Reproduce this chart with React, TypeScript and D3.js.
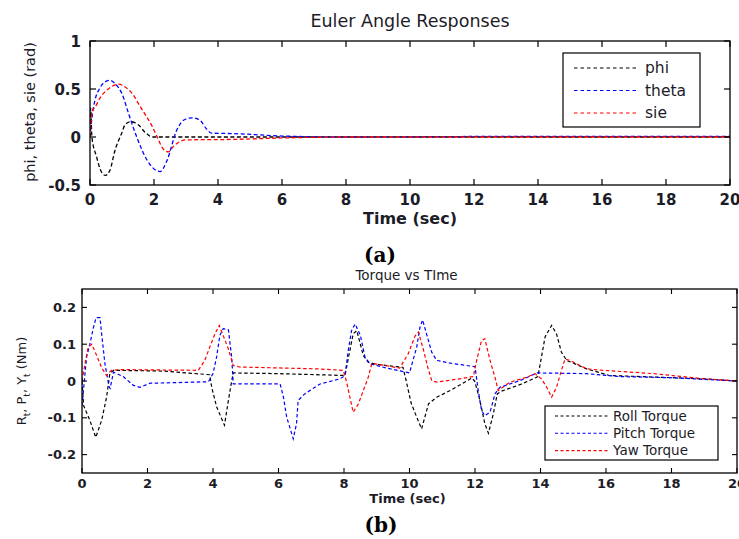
import React from 'react';
import * as d3 from 'd3';

// ---------- Panel (a): Euler angle responses ----------
const eulerTitle = 'Euler Angle Responses';
const eulerXTicks = [0, 2, 4, 6, 8, 10, 12, 14, 16, 18, 20];
const eulerYTicks = [-0.5, 0, 0.5, 1];
const eulerYTickLabels = ['-0.5', '0', '0.5', '1'];
const eulerSeriesNames = ['phi', 'theta', 'sie'];

const phiT = [0, 0.02, 0.06, 0.2, 0.35, 0.48, 0.62, 0.78, 0.99, 1.1, 1.27, 1.5, 1.72, 1.95, 2.3, 20];
const phiV = [0, 0.3, 0.0, -0.2, -0.36, -0.4, -0.35, -0.14, 0.04, 0.13, 0.16, 0.13, 0.05, 0.0, 0, 0];

const thetaT = [0, 0.08, 0.16, 0.31, 0.45, 0.63, 0.8, 1.0, 1.2, 1.46, 1.8, 2.19, 2.4, 2.71, 2.95, 3.2, 3.45, 3.65, 3.8, 4.5, 6, 8, 13, 20];
const thetaV = [0, 0.25, 0.39, 0.51, 0.57, 0.59, 0.55, 0.45, 0.25, 0.0, -0.25, -0.36, -0.25, 0.07, 0.18, 0.2, 0.17, 0.08, 0.04, 0.035, 0.01, 0, 0.006, 0.006];

const sieT = [0, 0.08, 0.16, 0.3, 0.47, 0.7, 0.89, 1.1, 1.35, 1.51, 1.77, 1.93, 2.1, 2.3, 2.45, 2.6, 2.8, 3.0, 4.5, 6, 8, 20];
const sieV = [0, 0.28, 0.31, 0.4, 0.47, 0.53, 0.55, 0.52, 0.44, 0.35, 0.21, 0.12, 0.0, -0.13, -0.155, -0.1, -0.05, -0.03, -0.025, -0.01, 0, 0];

// ---------- Panel (b): Torque vs time ----------
const torqueTitle = 'Torque vs TIme';
const torqueXTicks = [0, 2, 4, 6, 8, 10, 12, 14, 16, 18, 20];
const torqueYTicks = [-0.2, -0.1, 0, 0.1, 0.2];
const torqueYTickLabels = ['-0.2', '-0.1', '0', '0.1', '0.2'];
const torqueSeriesNames = ['Roll Torque', 'Pitch Torque', 'Yaw Torque'];

const rollT = [0, 0.05, 0.24, 0.42, 0.6, 0.75, 0.85, 0.96, 2.5, 3.9, 3.96, 4.11, 4.35, 4.47, 4.57, 4.62, 6.0, 8.03, 8.15, 8.28, 8.39, 8.59, 8.74, 9.0, 9.8, 9.9, 10.05, 10.22, 10.37, 10.58, 10.83, 11.24, 11.9, 11.99, 12.15, 12.3, 12.41, 12.56, 12.68, 12.8, 13.37, 13.78, 13.92, 14.03, 14.14, 14.34, 14.49, 14.64, 14.8, 15.41, 16.1, 19, 20];
const rollV = [0, -0.067, -0.107, -0.153, -0.107, -0.044, 0.02, 0.029, 0.027, 0.017, -0.017, -0.07, -0.12, -0.053, 0.0, 0.022, 0.02, 0.015, 0.07, 0.128, 0.137, 0.069, 0.051, 0.045, 0.037, 0.0, -0.06, -0.098, -0.13, -0.062, -0.044, -0.026, 0.008, 0.0, -0.053, -0.116, -0.142, -0.089, -0.035, -0.028, -0.01, 0.006, 0.012, 0.065, 0.12, 0.151, 0.128, 0.078, 0.056, 0.033, 0.015, 0.006, 0];

const pitchT = [0, 0.14, 0.24, 0.35, 0.43, 0.55, 0.6, 0.7, 0.83, 0.86, 0.96, 1.26, 1.57, 1.77, 2.08, 2.6, 3.86, 4.0, 4.11, 4.21, 4.31, 4.47, 4.57, 4.62, 6.05, 6.15, 6.25, 6.45, 6.55, 6.6, 6.8, 7.27, 7.88, 8.03, 8.13, 8.23, 8.34, 8.5, 8.64, 8.79, 9.3, 10.0, 10.22, 10.32, 10.4, 10.52, 10.68, 10.83, 11.34, 12.0, 12.1, 12.2, 12.3, 12.46, 12.61, 12.76, 13.37, 13.9, 15.41, 16.4, 17.95, 20];
const pitchV = [-0.067, 0.065, 0.1, 0.146, 0.172, 0.172, 0.128, 0.047, -0.017, -0.02, 0.024, 0.012, -0.012, -0.017, -0.006, -0.005, -0.002, 0.02, 0.065, 0.124, 0.142, 0.139, 0.065, -0.008, -0.008, -0.044, -0.098, -0.157, -0.116, -0.053, -0.035, -0.008, 0.006, 0.015, 0.083, 0.137, 0.155, 0.124, 0.065, 0.047, 0.035, 0.022, 0.092, 0.146, 0.166, 0.128, 0.078, 0.056, 0.047, 0.039, -0.026, -0.08, -0.094, -0.085, -0.035, -0.017, 0.001, 0.022, 0.02, 0.012, 0.009, 0];

const yawT = [0, 0.11, 0.19, 0.3, 0.45, 0.6, 0.75, 0.9, 1.16, 3.55, 3.75, 3.9, 4.06, 4.19, 4.31, 4.47, 4.62, 4.82, 7.17, 7.98, 8.08, 8.18, 8.28, 8.44, 8.59, 8.74, 8.85, 9.0, 9.7, 9.96, 10.17, 10.27, 10.42, 10.57, 10.68, 10.83, 11.54, 11.95, 12.05, 12.2, 12.3, 12.46, 12.61, 12.71, 12.8, 13.07, 13.58, 13.83, 14.03, 14.19, 14.34, 14.49, 14.64, 14.75, 14.9, 15.41, 15.92, 17.45, 19, 20];
const yawV = [0, 0.056, 0.092, 0.1, 0.069, 0.036, 0.015, 0.029, 0.031, 0.029, 0.056, 0.092, 0.128, 0.151, 0.124, 0.087, 0.042, 0.038, 0.033, 0.029, -0.003, -0.044, -0.085, -0.062, -0.026, 0.01, 0.048, 0.046, 0.035, 0.074, 0.122, 0.133, 0.087, 0.033, 0.001, -0.003, 0.006, 0.012, 0.056, 0.11, 0.115, 0.056, 0.01, -0.026, -0.02, -0.003, 0.01, 0.02, 0.006, -0.017, -0.044, -0.017, 0.029, 0.06, 0.056, 0.033, 0.029, 0.02, 0.006, 0];

const seriesColors = ['#000000', '#0000ff', '#ff0000'];

const FONT = '"DejaVu Sans", sans-serif';
const TXT = '#1c1c28';

type Pt = [number, number];
const zip = (t: number[], v: number[]): Pt[] => t.map((d, i) => [d, v[i]]);

export default function App() {
  const W = 739;
  const H = 539;

  // panel (a) frame
  const a = { l: 90, r: 730, t: 41, b: 185 };
  const x1 = d3.scaleLinear().domain([0, 20]).range([a.l, a.r]);
  const y1 = d3.scaleLinear().domain([-0.5, 1]).range([a.b, a.t]);

  // panel (b) frame
  const b = { l: 82, r: 737, t: 289, b: 473 };
  const x2 = d3.scaleLinear().domain([0, 20]).range([b.l, b.r]);
  const y2 = d3.scaleLinear().domain([-0.25, 0.25]).range([b.b, b.t]);

  const line1 = d3.line<Pt>().x(d => x1(d[0])).y(d => y1(d[1])).curve(d3.curveMonotoneX);
  const line2 = d3.line<Pt>().x(d => x2(d[0])).y(d => y2(d[1])).curve(d3.curveLinear);

  const eulerData = [zip(phiT, phiV), zip(thetaT, thetaV), zip(sieT, sieV)];
  const torqueData = [zip(rollT, rollV), zip(pitchT, pitchV), zip(yawT, yawV)];

  const dash = '4,2.5';
  const tk = 6;

  return (
    <svg width={W} height={H} style={{ position: 'absolute', left: 0, top: 0, background: '#fff' }}>
      <defs>
        <clipPath id="clipA"><rect x={a.l} y={a.t} width={a.r - a.l} height={a.b - a.t} /></clipPath>
        <clipPath id="clipB"><rect x={b.l} y={b.t} width={b.r - b.l} height={b.b - b.t} /></clipPath>
      </defs>
      <rect x={0} y={0} width={W} height={H} fill="#fff" />

      {/* ===== Panel (a) ===== */}
      <text x={(a.l + a.r) / 2} y={27} textAnchor="middle" fontFamily={FONT} fontSize={17.5} fill={TXT}>{eulerTitle}</text>
      <g clipPath="url(#clipA)">
        {eulerData.map((d, i) => (
          <path key={i} d={line1(d) || ''} fill="none" stroke={seriesColors[i]} strokeWidth={1.3} strokeDasharray={dash} />
        ))}
      </g>
      <rect x={a.l} y={a.t} width={a.r - a.l} height={a.b - a.t} fill="none" stroke="#000" strokeWidth={1.3} />
      {eulerXTicks.map(t => (
        <g key={'ax' + t}>
          <line x1={x1(t)} x2={x1(t)} y1={a.b} y2={a.b - tk} stroke="#000" strokeWidth={1.2} />
          <line x1={x1(t)} x2={x1(t)} y1={a.t} y2={a.t + tk} stroke="#000" strokeWidth={1.2} />
          <text x={x1(t)} y={205} textAnchor="middle" fontFamily={FONT} fontSize={15} fontWeight="bold" fill={TXT}>{t}</text>
        </g>
      ))}
      {eulerYTicks.map((t, i) => (
        <g key={'ay' + t}>
          <line x1={a.l} x2={a.l + tk} y1={y1(t)} y2={y1(t)} stroke="#000" strokeWidth={1.2} />
          <line x1={a.r} x2={a.r - tk} y1={y1(t)} y2={y1(t)} stroke="#000" strokeWidth={1.2} />
          <text x={a.l - 9} y={y1(t) + 5.5} textAnchor="end" fontFamily={FONT} fontSize={15} fontWeight="bold" fill={TXT}>{eulerYTickLabels[i]}</text>
        </g>
      ))}
      <text x={(a.l + a.r) / 2} y={224} textAnchor="middle" fontFamily={FONT} fontSize={16} fontWeight="bold" fill={TXT}>Time (sec)</text>
      <text transform={`translate(35,${(a.t + a.b) / 2 - 1}) rotate(-90)`} textAnchor="middle" fontFamily={FONT} fontSize={14.5} fill={TXT}>phi, theta, sie (rad)</text>

      {/* legend (a) */}
      <rect x={563} y={53} width={137} height={74} fill="#fff" stroke="#000" strokeWidth={1.2} />
      {eulerSeriesNames.map((n, i) => (
        <g key={n}>
          <line x1={574} x2={638} y1={68 + i * 22.5} y2={68 + i * 22.5} stroke={seriesColors[i]} strokeWidth={1.2} strokeDasharray="3.5,3" />
          <text x={645} y={68 + i * 22.5 + 5} fontFamily={FONT} fontSize={15.5} fill={TXT}>{n}</text>
        </g>
      ))}

      <text x={380} y={262} textAnchor="middle" fontFamily='"DejaVu Serif", "Liberation Serif", serif' fontSize={20} fontWeight="bold" fill="#000">(a)</text>

      {/* ===== Panel (b) ===== */}
      <text x={(b.l + b.r) / 2 - 3} y={280} textAnchor="middle" fontFamily={FONT} fontSize={13.5} fill={TXT}>{torqueTitle}</text>
      <g clipPath="url(#clipB)">
        {torqueData.map((d, i) => (
          <path key={i} d={line2(d) || ''} fill="none" stroke={seriesColors[i]} strokeWidth={1.2} strokeDasharray="3.5,2.5" />
        ))}
      </g>
      <rect x={b.l} y={b.t} width={b.r - b.l} height={b.b - b.t} fill="none" stroke="#000" strokeWidth={1.3} />
      {torqueXTicks.map(t => (
        <g key={'bx' + t}>
          <line x1={x2(t)} x2={x2(t)} y1={b.b} y2={b.b - 5} stroke="#000" strokeWidth={1.1} />
          <line x1={x2(t)} x2={x2(t)} y1={b.t} y2={b.t + 5} stroke="#000" strokeWidth={1.1} />
          <text x={x2(t)} y={488} textAnchor="middle" fontFamily={FONT} fontSize={13} fontWeight="bold" fill={TXT}>{t}</text>
        </g>
      ))}
      {torqueYTicks.map((t, i) => (
        <g key={'by' + t}>
          <line x1={b.l} x2={b.l + 5} y1={y2(t)} y2={y2(t)} stroke="#000" strokeWidth={1.1} />
          <line x1={b.r} x2={b.r - 5} y1={y2(t)} y2={y2(t)} stroke="#000" strokeWidth={1.1} />
          <text x={b.l - 6} y={y2(t) + 4.5} textAnchor="end" fontFamily={FONT} fontSize={13} fontWeight="bold" fill={TXT}>{torqueYTickLabels[i]}</text>
        </g>
      ))}
      <text x={(b.l + b.r) / 2 - 2} y={503} textAnchor="middle" fontFamily={FONT} fontSize={13} fontWeight="bold" fill={TXT}>Time (sec)</text>
      <text transform={`translate(26,${(b.t + b.b) / 2}) rotate(-90)`} textAnchor="middle" fontFamily={FONT} fontSize={13} fill={TXT}>
        <tspan>R</tspan><tspan fontSize={9} dy={4}>t</tspan><tspan dy={-4}>, P</tspan><tspan fontSize={9} dy={4}>t</tspan><tspan dy={-4}>, Y</tspan><tspan fontSize={9} dy={4}>t</tspan><tspan dy={-4}> (Nm)</tspan>
      </text>

      {/* legend (b) */}
      <rect x={545} y={406} width={173} height={54} fill="#fff" stroke="#000" strokeWidth={1.2} />
      {torqueSeriesNames.map((n, i) => (
        <g key={n}>
          <line x1={555} x2={609} y1={416 + i * 17.3} y2={416 + i * 17.3} stroke={seriesColors[i]} strokeWidth={1.1} strokeDasharray="3,2.5" />
          <text x={613} y={416 + i * 17.3 + 4.5} fontFamily={FONT} fontSize={13.5} fill={TXT}>{n}</text>
        </g>
      ))}

      <text x={381} y={532} textAnchor="middle" fontFamily='"DejaVu Serif", "Liberation Serif", serif' fontSize={20} fontWeight="bold" fill="#000">(b)</text>
    </svg>
  );
}
